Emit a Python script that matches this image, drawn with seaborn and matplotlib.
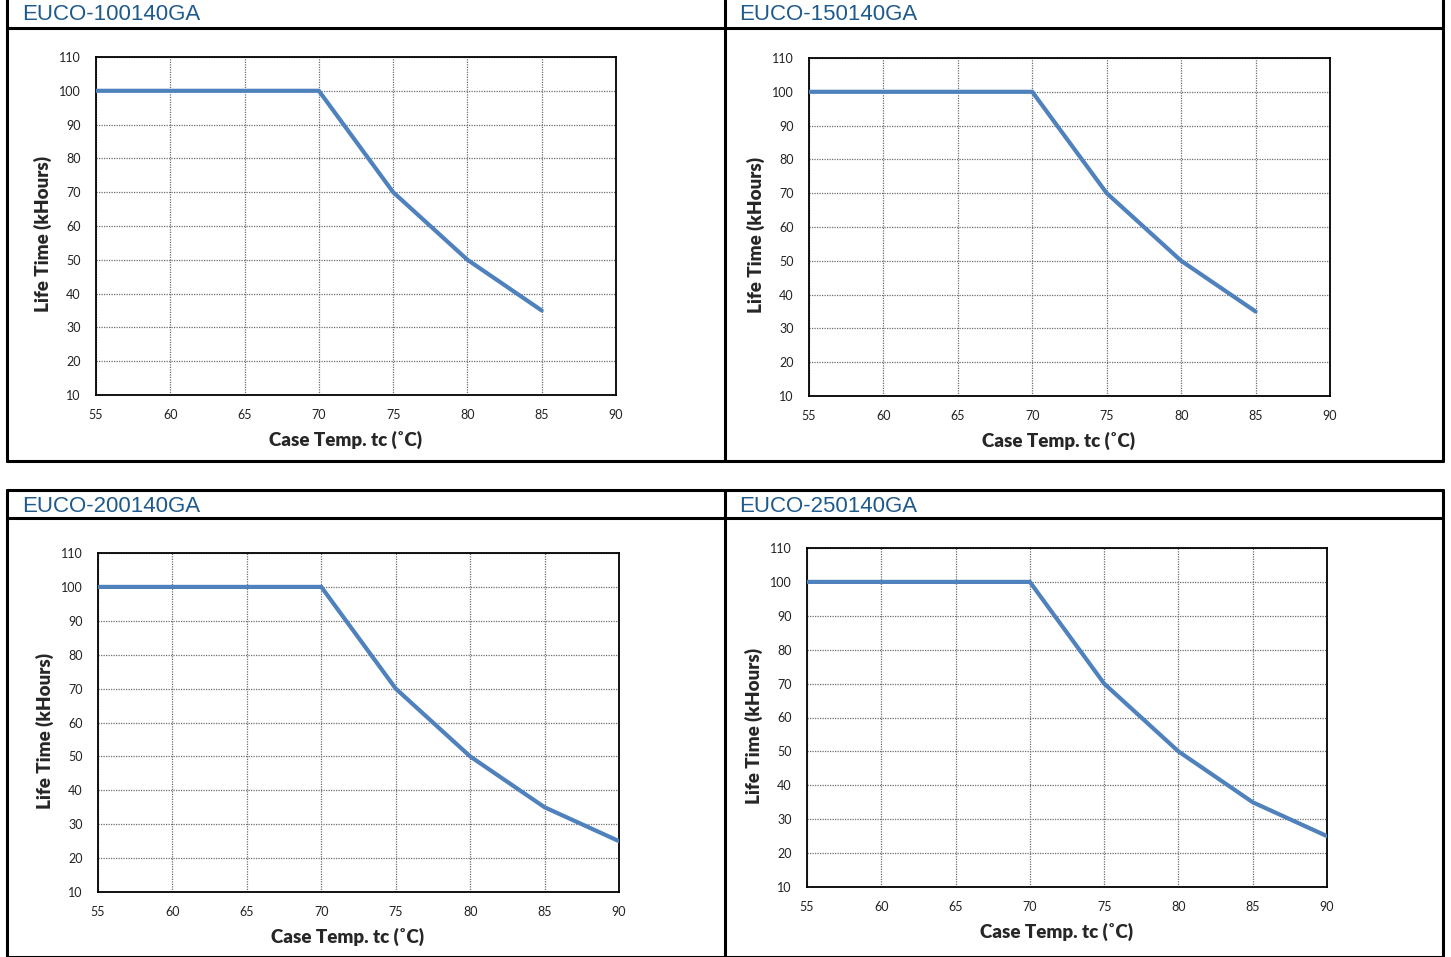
import matplotlib
matplotlib.use("Agg")
import matplotlib.pyplot as plt
import seaborn as sns
import pandas as pd

# model names, one per panel (reading order)
models = ["EUCO-100140GA", "EUCO-150140GA", "EUCO-200140GA", "EUCO-250140GA"]

# derating curves: case temperature vs. life time
temp_short = [55, 60, 65, 70, 75, 80, 85]
life_short = [100, 100, 100, 100, 70, 50, 35]
temp_long = [55, 60, 65, 70, 75, 80, 85, 90]
life_long = [100, 100, 100, 100, 70, 50, 35, 25]

x_ticks = [55, 60, 65, 70, 75, 80, 85, 90]
y_ticks = [10, 20, 30, 40, 50, 60, 70, 80, 90, 100, 110]

curves = [(temp_short, life_short), (temp_short, life_short),
          (temp_long, life_long), (temp_long, life_long)]

W, H = 1451, 957
sns.set_style("white")
plt.rcParams["font.family"] = ["Lato", "DejaVu Sans"]

fig = plt.figure(figsize=(W / 100, H / 100), dpi=100)
fig.patch.set_facecolor("white")


def px_rect(x0, y0, x1, y1):
    # pixel box (top-left origin) -> figure fraction
    return [x0 / W, 1 - y1 / H, (x1 - x0) / W, (y1 - y0) / H]


def hline(y, x0, x1, lw=2.2):
    fig.add_artist(plt.Line2D([x0 / W, x1 / W], [1 - y / H, 1 - y / H],
                              color="black", lw=lw, transform=fig.transFigure))


def vline(x, y0, y1, lw=2.2):
    fig.add_artist(plt.Line2D([x / W, x / W], [1 - y0 / H, 1 - y1 / H],
                              color="black", lw=lw, transform=fig.transFigure))


# table frames around the panels
for top, bottom in [(0, 461), (490, 957)]:
    if top > 0:
        hline(top, 7, 1443)
    hline(bottom, 7, 1443)
    hline(top + 28, 7, 1443)
    vline(7, top, bottom)
    vline(725, top, bottom)
    vline(1443, top, bottom)

# axes boxes in pixels (x0, y0, x1, y1) and title positions
boxes = [(96, 57, 616, 395), (809, 58, 1330, 396),
         (98, 553, 619, 892), (807, 548, 1327, 887)]
title_pos = [(22, 14), (739, 14), (22, 506), (739, 506)]

for name, (xs, ys), box, (tx, ty) in zip(models, curves, boxes, title_pos):
    fig.text(tx / W, 1 - ty / H, name, ha="left", va="center", fontsize=16,
             color="#1F5A8C", family=["Liberation Sans Narrow", "Liberation Sans", "DejaVu Sans"])

    ax = fig.add_axes(px_rect(*box))
    df = pd.DataFrame({"temp": xs, "life": ys})
    sns.lineplot(data=df, x="temp", y="life", ax=ax, color="#4F81BD", lw=3.0,
                 solid_joinstyle="miter", zorder=3)
    ax.set_xlim(55, 90)
    ax.set_ylim(10, 110)
    ax.set_xticks(x_ticks)
    ax.set_yticks(y_ticks)
    ax.tick_params(length=0, labelsize=9, colors="#222222")
    ax.tick_params(axis="x", pad=10)
    ax.tick_params(axis="y", pad=11)
    ax.grid(True, color="#6f6f6f", ls=(0, (1, 1)), lw=0.9)
    for sp in ax.spines.values():
        sp.set_color("black")
        sp.set_linewidth(1.3)
    ax.set_xlabel("Case Temp. tc (˚C)", fontsize=13.5, fontweight="heavy")
    ax.set_ylabel("Life Time (kHours)", fontsize=13.5, fontweight="heavy")
    # labels sit slightly off-centre in the original layout
    ax.xaxis.set_label_coords(0.479, -0.105)
    ax.yaxis.set_label_coords(-0.085, 0.476)

fig.savefig("out.png", dpi=100, facecolor="white")
